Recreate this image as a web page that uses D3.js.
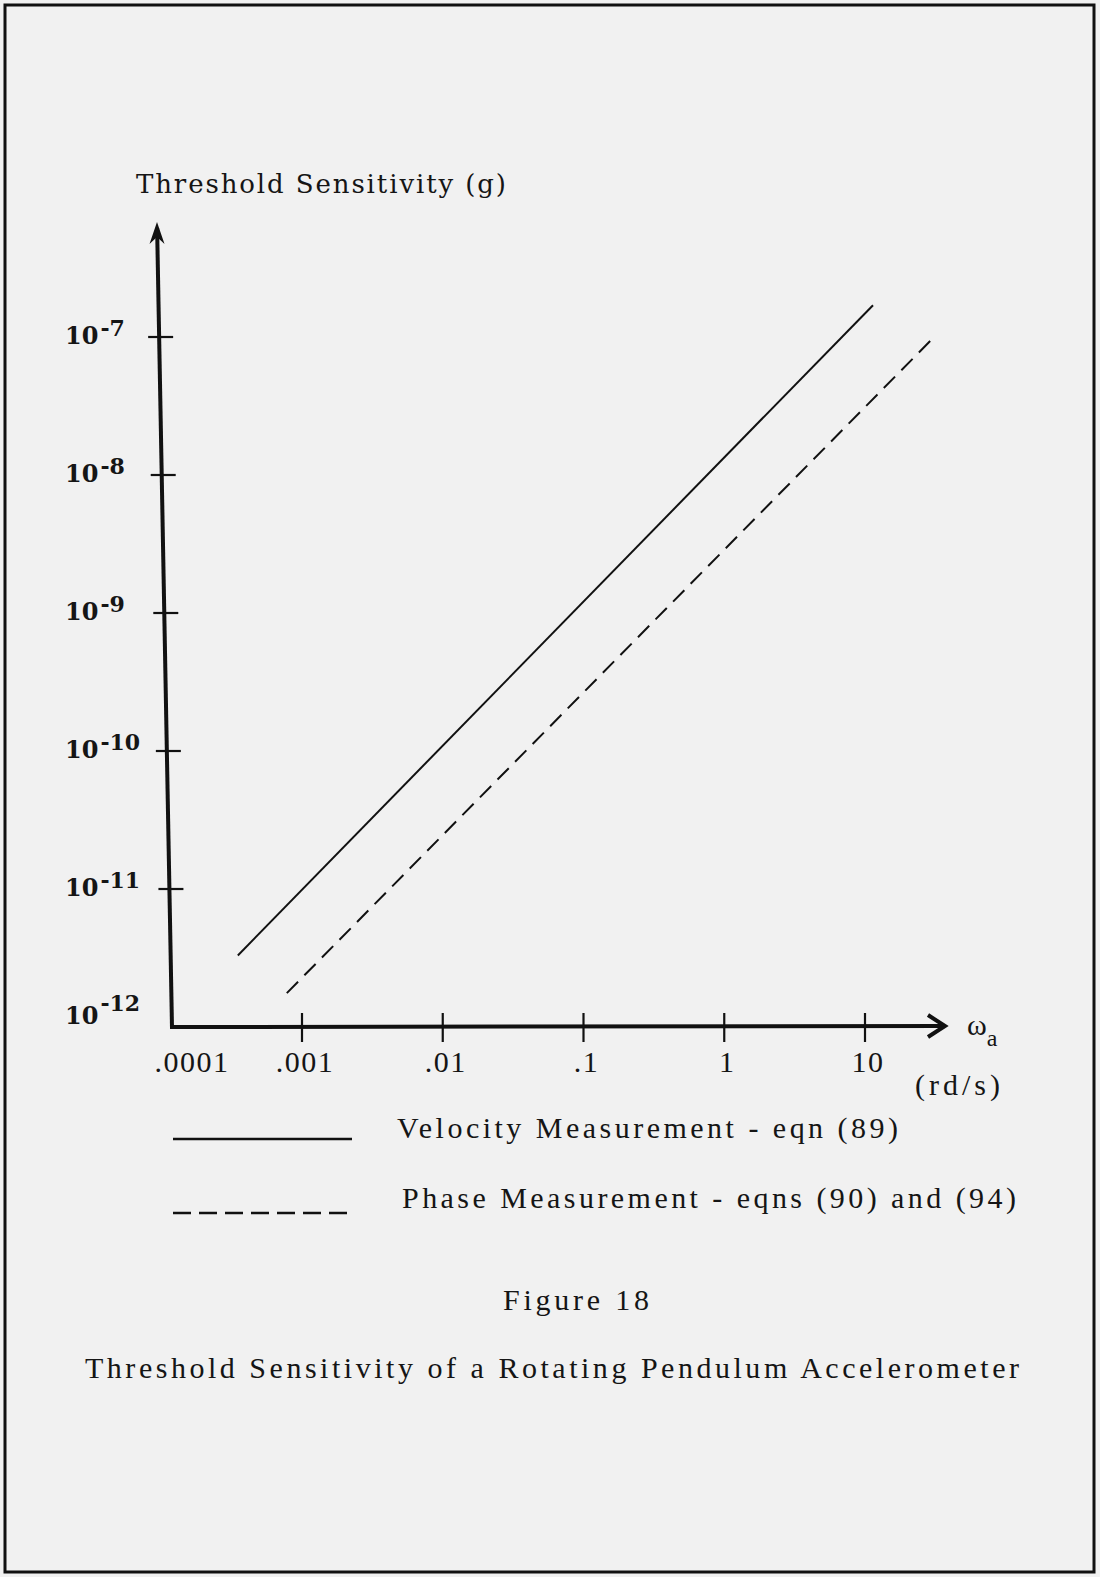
<!DOCTYPE html>
<html>
<head>
<meta charset="utf-8">
<script src="https://d3js.org/d3.v7.min.js"></script>
<style>
  body { margin: 0; background: #f1f1f1; }
  svg { display: block; }
  text { fill: #151515; }
</style>
</head>
<body>
<svg></svg>
<script>
// values
const xTickValues = [0.001, 0.01, 0.1, 1, 10]
const xTickLabels = ['.001', '.01', '.1', '1', '10']
const xOriginLabel = '.0001'
const yTickValues = [1e-7, 1e-8, 1e-9, 1e-10, 1e-11, 1e-12]
const yTickExponents = ['-7', '-8', '-9', '-10', '-11', '-12']
const velocityX = [3.5e-4, 11.4]
const velocityY = [3.3e-12, 1.7e-7]
const phaseX = [7.8e-4, 30.4]
const phaseY = [1.76e-12, 9.8e-8]
const legendLabels = ['Velocity Measurement - eqn (89)', 'Phase Measurement - eqns (90) and (94)']

const width = 1100,
      height = 1577

const svg = d3.select('svg')
    .attr('width', width)
    .attr('height', height)

// page frame
svg.append('rect')
    .attr('x', 5).attr('y', 5)
    .attr('width', 1089).attr('height', 1567)
    .attr('fill', '#f1f1f1')
    .attr('stroke', '#111')
    .attr('stroke-width', 3)

const x = d3.scaleLog().domain([1e-3, 10]).range([302, 865])
const y = d3.scaleLog().domain([1e-12, 1e-7]).range([1027, 337])

const originY = y(1e-12)
const originX = 172
const yTop = y(1e-7) - 115
const xEnd = x(10) + 80
// hand drawn axis leans a little to the left at the top
const axisX = py => originX - (originY - py) * (15 / (originY - yTop))

const ink = '#111'
const serif = '"Liberation Serif", serif'

// y axis
svg.append('line')
    .attr('x1', axisX(originY)).attr('y1', originY + 1)
    .attr('x2', axisX(yTop + 6)).attr('y2', yTop + 6)
    .attr('stroke', ink).attr('stroke-width', 4)
svg.append('path')
    .attr('transform', 'translate(' + axisX(yTop) + ',' + yTop + ')')
    .attr('d', 'M0,0 L7.5,22 L0,15 L-7.5,22 Z')
    .attr('fill', ink)

// x axis
svg.append('line')
    .attr('x1', originX - 2).attr('y1', originY)
    .attr('x2', xEnd - 2).attr('y2', originY - 1)
    .attr('stroke', ink).attr('stroke-width', 4)
svg.append('path')
    .attr('d', 'M' + (xEnd - 17) + ',' + (originY - 12) + ' L' + xEnd + ',' + (originY - 1) + ' L' + (xEnd - 17) + ',' + (originY + 10))
    .attr('fill', 'none')
    .attr('stroke', ink).attr('stroke-width', 4)

// y ticks (cross the axis)
svg.selectAll('.ytick')
    .data(yTickValues.slice(0, -1))
    .enter().append('line')
    .attr('class', 'ytick')
    .attr('x1', d => axisX(y(d)) - 11)
    .attr('x2', d => axisX(y(d)) + 14)
    .attr('y1', d => y(d))
    .attr('y2', d => y(d))
    .attr('stroke', ink).attr('stroke-width', 2.2)

const ylab = svg.selectAll('.ylab')
    .data(yTickValues)
    .enter().append('text')
    .attr('class', 'ylab')
    .attr('x', 65)
    .attr('y', (d, i) => i === yTickValues.length - 1 ? y(d) - 3 : y(d) + 7)
    .style('font-family', '"DejaVu Serif", serif')
    .style('font-weight', 'bold')
    .style('font-size', '24px')
ylab.append('tspan').text('10')
ylab.append('tspan')
    .attr('dx', 2)
    .attr('dy', (d, i) => i === yTickValues.length - 1 ? -13 : -8)
    .style('font-size', '22px')
    .text((d, i) => yTickExponents[i].replace('-', '\u2011'))

// x ticks
svg.selectAll('.xtick')
    .data(xTickValues)
    .enter().append('line')
    .attr('class', 'xtick')
    .attr('x1', d => x(d)).attr('x2', d => x(d))
    .attr('y1', originY - 14).attr('y2', originY + 15)
    .attr('stroke', ink).attr('stroke-width', 2.2)

svg.selectAll('.xlab')
    .data(xTickValues)
    .enter().append('text')
    .attr('class', 'xlab')
    .attr('x', d => x(d) + 3)
    .attr('y', originY + 45)
    .attr('text-anchor', 'middle')
    .style('font-family', serif)
    .style('font-size', '30px')
    .style('letter-spacing', '1.5px')
    .text((d, i) => xTickLabels[i])
svg.append('text')
    .attr('x', originX + 20)
    .attr('y', originY + 45)
    .attr('text-anchor', 'middle')
    .style('font-family', serif)
    .style('font-size', '30px')
    .style('letter-spacing', '1.5px')
    .text(xOriginLabel)

// axis titles
svg.append('text')
    .attr('x', 136).attr('y', 193)
    .attr('textLength', 370)
    .style('font-family', '"DejaVu Serif", serif')
    .style('font-size', '26px')
    .text('Threshold Sensitivity (g)')

const omega = svg.append('text')
    .attr('x', xEnd + 22).attr('y', originY + 8)
    .style('font-family', serif)
    .style('font-size', '30px')
omega.append('tspan').text('\u03c9')
omega.append('tspan').attr('dx', 0).attr('dy', 11).style('font-size', '24px').text('a')

svg.append('text')
    .attr('x', 915).attr('y', originY + 68)
    .attr('textLength', 85)
    .style('font-family', serif)
    .style('font-size', '30px')
    .text('(rd/s)')

// data lines
const line = d3.line()
    .x(d => x(d[0]))
    .y(d => y(d[1]))

svg.append('path')
    .datum(d3.zip(velocityX, velocityY))
    .attr('d', line)
    .attr('fill', 'none')
    .attr('stroke', ink)
    .attr('stroke-width', 2)

svg.append('path')
    .datum(d3.zip(phaseX, phaseY))
    .attr('d', line)
    .attr('fill', 'none')
    .attr('stroke', ink)
    .attr('stroke-width', 2)
    .attr('stroke-dasharray', '16,9')

// legend
const legend = [
    {label: legendLabels[0], dash: null, y: 1139, tx: 397, ty: 1138, len: 501},
    {label: legendLabels[1], dash: '18,8', y: 1213, tx: 402, ty: 1208, len: 614}
]
legend.forEach(l => {
    svg.append('line')
        .attr('x1', 173).attr('x2', 352)
        .attr('y1', l.y).attr('y2', l.y)
        .attr('stroke', ink).attr('stroke-width', 2.5)
        .attr('stroke-dasharray', l.dash)
    svg.append('text')
        .attr('x', l.tx).attr('y', l.ty)
        .attr('textLength', l.len)
        .style('font-family', serif)
        .style('font-size', '30px')
        .text(l.label)
})

// caption
svg.append('text')
    .attr('x', 503).attr('y', 1310)
    .attr('textLength', 146)
    .style('font-family', serif)
    .style('font-size', '30px')
    .text('Figure 18')

svg.append('text')
    .attr('x', 85).attr('y', 1378)
    .attr('textLength', 934)
    .style('font-family', serif)
    .style('font-size', '30px')
    .text('Threshold Sensitivity of a Rotating Pendulum Accelerometer')
</script>
</body>
</html>
